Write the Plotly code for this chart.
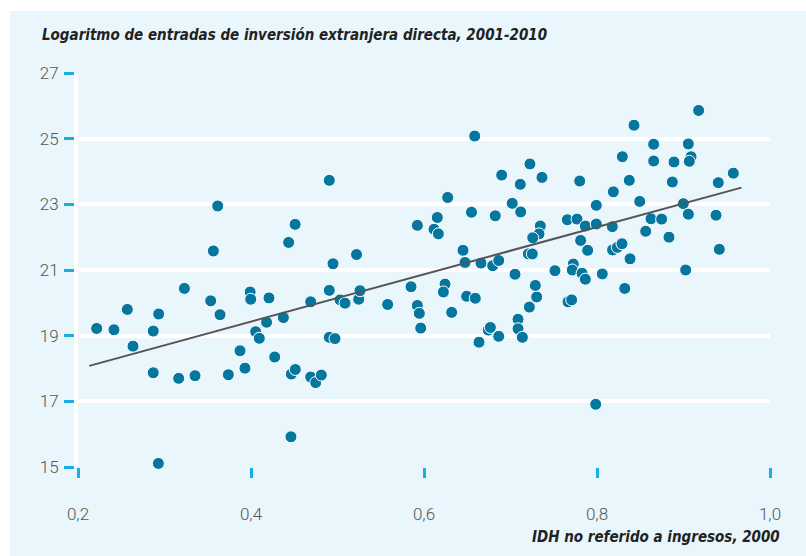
import plotly.graph_objects as go

idh = [0.4905, 0.3615, 0.451, 0.4435, 0.3565, 0.4948, 0.522, 0.323, 0.399, 0.4905,
       0.2216, 0.2416, 0.257, 0.2636, 0.287, 0.2933, 0.287, 0.3164, 0.3353, 0.3534,
       0.3642, 0.3738, 0.3873, 0.393, 0.3997, 0.4208, 0.4054, 0.4096, 0.418, 0.4274,
       0.4374, 0.4466, 0.4512, 0.4462, 0.2929, 0.469, 0.4748, 0.4813, 0.469, 0.5029,
       0.5087, 0.5245, 0.4905, 0.4971, 0.526, 0.6586, 0.7225, 0.6898, 0.7113, 0.7364,
       0.78, 0.6274, 0.702, 0.7118, 0.6549, 0.6824, 0.7992, 0.5923, 0.6154, 0.6116,
       0.6166, 0.7657, 0.7769, 0.7345, 0.733, 0.7257, 0.7865, 0.7992, 0.7811, 0.7892,
       0.6451, 0.6474, 0.6659, 0.6794, 0.6864, 0.7206, 0.7252, 0.7052, 0.7514, 0.7726,
       0.7714, 0.7827, 0.7865, 0.8061, 0.585, 0.6243, 0.6224, 0.558, 0.5923, 0.5946,
       0.5962, 0.632, 0.6493, 0.6593, 0.6636, 0.6743, 0.6767, 0.6864, 0.7087, 0.7087,
       0.7137, 0.7218, 0.7303, 0.7287, 0.7665, 0.7707, 0.7985, 0.9175, 0.8428, 0.8655,
       0.9056, 0.8293, 0.9087, 0.9067, 0.8655, 0.889, 0.9576, 0.9402, 0.8373, 0.8871,
       0.8189, 0.8494, 0.8998, 0.9056, 0.9376, 0.8177, 0.8624, 0.8747, 0.8563, 0.8832,
       0.818, 0.8235, 0.8289, 0.8382, 0.9414, 0.9025, 0.8321]

log_ied = [23.73, 22.95, 22.39, 21.84, 21.58, 21.19, 21.47, 20.44, 20.33, 20.38,
           19.22, 19.18, 19.80, 18.68, 19.14, 19.66, 17.87, 17.70, 17.78, 20.06,
           19.64, 17.81, 18.54, 18.01, 20.11, 20.15, 19.12, 18.92, 19.41, 18.35,
           19.55, 17.83, 17.97, 15.92, 15.11, 17.74, 17.57, 17.80, 20.03, 20.09,
           19.99, 20.11, 18.95, 18.91, 20.37, 25.08, 24.23, 23.89, 23.61, 23.82,
           23.71, 23.21, 23.03, 22.77, 22.76, 22.65, 22.97, 22.36, 22.60, 22.24,
           22.10, 22.53, 22.55, 22.34, 22.10, 21.98, 22.34, 22.40, 21.90, 21.60,
           21.60, 21.23, 21.21, 21.13, 21.29, 21.49, 21.49, 20.87, 20.98, 21.18,
           21.00, 20.90, 20.72, 20.88, 20.49, 20.57, 20.33, 19.95, 19.92, 19.68,
           19.23, 19.71, 20.20, 20.14, 18.80, 19.17, 19.25, 18.98, 19.50, 19.21,
           18.95, 19.87, 20.18, 20.53, 20.03, 20.09, 16.91, 25.86, 25.41, 24.83,
           24.84, 24.45, 24.45, 24.31, 24.32, 24.29, 23.95, 23.66, 23.73, 23.68,
           23.38, 23.09, 23.02, 22.70, 22.67, 22.32, 22.56, 22.55, 22.18, 22.00,
           21.61, 21.69, 21.80, 21.34, 21.63, 21.00, 20.44]

trend_x = [0.213, 0.967]
trend_y = [18.08, 23.51]

x_ticks = [0.2, 0.4, 0.6, 0.8, 1.0]
y_ticks = [15, 17, 19, 21, 23, 25, 27]

title_text = "Logaritmo de entradas de inversión extranjera directa, 2001-2010"
x_title_text = "IDH no referido a ingresos, 2000"

BG = "#E9F6FC"
DOT = "#05779F"
TICK = "#1AAEE6"
TITLE_FONT = "Liberation Sans Narrow, DejaVu Sans Condensed, Roboto, sans-serif"
TICK_FONT = "Roboto, Lato, sans-serif"

fig = go.Figure()
fig.add_trace(go.Scatter(
    x=idh, y=log_ied, mode="markers",
    marker=dict(size=12, color=DOT, line=dict(color="white", width=1)),
    cliponaxis=False, showlegend=False, hoverinfo="x+y"))
fig.add_trace(go.Scatter(
    x=trend_x, y=trend_y, mode="lines",
    line=dict(color="#555555", width=2), showlegend=False, hoverinfo="skip"))

fig.add_shape(type="rect", xref="paper", yref="paper",
              x0=(10 - 78) / 692, x1=1.1, y0=-0.3, y1=(467 - 11) / 394,
              fillcolor=BG, line=dict(width=0), layer="below")

fig.add_annotation(text="<b><i>" + title_text + "</i></b>", xref="paper", yref="paper",
                   x=(40 - 78) / 692, y=(467 - 35) / 394, xanchor="left", yanchor="middle",
                   showarrow=False, font=dict(family=TITLE_FONT, size=15, color="#222222"))
fig.add_annotation(text="<b><i>" + x_title_text + "</i></b>", xref="paper", yref="paper",
                   x=(782 - 78) / 692, y=(467 - 537) / 394, xanchor="right", yanchor="middle",
                   showarrow=False, font=dict(family=TITLE_FONT, size=15, color="#222222"))

fig.update_layout(
    width=806, height=556,
    margin=dict(l=78, r=36, t=73, b=89),
    paper_bgcolor="white", plot_bgcolor="rgba(0,0,0,0)",
    separators=", ",
    font=dict(family=TICK_FONT, size=17, color="#555555", weight=300),
    xaxis=dict(range=[0.2, 1.0], tickvals=x_ticks, tickformat=".1f",
               showgrid=False, zeroline=False, showline=False,
               ticks="outside", ticklen=10, tickwidth=3, tickcolor=TICK,
               ticklabelstandoff=22, fixedrange=True,
               tickfont=dict(family=TICK_FONT, size=17, color="#555555", weight=300)),
    yaxis=dict(range=[15, 27], tickvals=y_ticks, tickformat="d",
               showgrid=True, gridcolor="white", gridwidth=4,
               zeroline=False, showline=True, linecolor="white", linewidth=4,
               ticks="outside", ticklen=10, tickwidth=2.5, tickcolor=TICK,
               ticklabelstandoff=2, fixedrange=True,
               tickfont=dict(family=TICK_FONT, size=17, color="#555555", weight=300)),
)

fig.write_html("out.html", config={"displayModeBar": False},
               post_script="document.body.style.margin='0';")
